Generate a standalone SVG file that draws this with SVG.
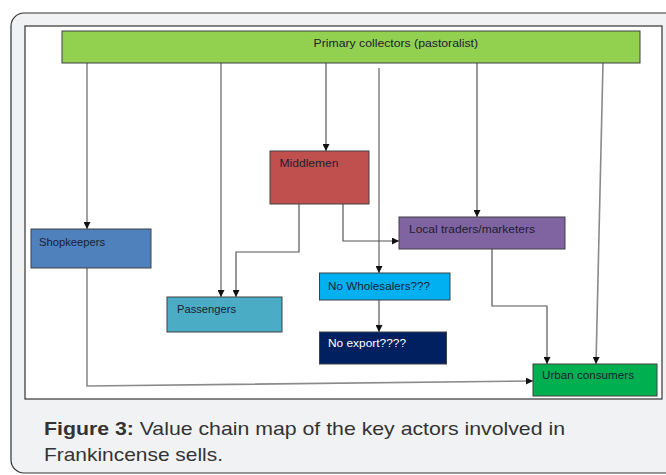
<svg xmlns="http://www.w3.org/2000/svg" width="666" height="475" viewBox="0 0 666 475">
<style>
.box{stroke:#404040;stroke-width:1}
.lbl{font-family:"Liberation Sans",Arial,sans-serif;font-size:11px;fill:#1c2030}
.ln{fill:none;stroke:#555;stroke-width:1.2}
.lg{fill:none;stroke:#8a8a8a;stroke-width:1.6}
.cap{font-family:"Liberation Sans",Arial,sans-serif;font-size:18.5px;fill:#333}
</style>
<defs>
<marker id="ah" viewBox="0 0 10 10" refX="10" refY="5" markerWidth="7" markerHeight="7" markerUnits="userSpaceOnUse" orient="auto">
<path d="M0,0 L10,5 L0,10 z" fill="#111"/>
</marker>
</defs>
<rect x="0" y="0" width="666" height="475" fill="#ffffff"/>
<rect x="11" y="13" width="670" height="460" rx="13" ry="13" fill="#f1f2f4" stroke="#333" stroke-width="1.2"/>
<rect x="25" y="26" width="637" height="373" fill="#ffffff" stroke="#333" stroke-width="1.2"/>

<g id="connectors">
<line class="lg" x1="87" y1="63" x2="87" y2="229" marker-end="url(#ah)"/>
<line class="lg" x1="221" y1="63" x2="221" y2="297" marker-end="url(#ah)"/>
<line class="ln" x1="326" y1="63" x2="326" y2="151" marker-end="url(#ah)"/>
<line class="lg" x1="379" y1="68" x2="379" y2="273" marker-end="url(#ah)"/>
<line class="ln" x1="477" y1="63" x2="477" y2="217" marker-end="url(#ah)"/>
<line class="lg" x1="603" y1="63" x2="596" y2="364" marker-end="url(#ah)"/>
<polyline class="ln" points="299,204 299,252 236,252 236,297" marker-end="url(#ah)"/>
<polyline class="ln" points="343,204 343,241 399,241" marker-end="url(#ah)"/>
<polyline class="ln" points="492,249 492,306 547,306 547,364" marker-end="url(#ah)"/>
<line class="ln" x1="379" y1="300" x2="379" y2="332" marker-end="url(#ah)"/>
<polyline class="lg" points="87,268 87,386 533,381" marker-end="url(#ah)"/>
</g>

<g id="primary">
<rect class="box" x="62" y="31" width="578" height="32" fill="#92d050"/>
<text class="lbl" x="313.5" y="47" textLength="164.5" lengthAdjust="spacingAndGlyphs">Primary collectors (pastoralist)</text>
</g>
<g id="middlemen">
<rect class="box" x="270" y="151" width="99" height="53" fill="#c0504d"/>
<text class="lbl" x="279.5" y="167" textLength="59" lengthAdjust="spacingAndGlyphs">Middlemen</text>
</g>
<g id="local-traders">
<rect class="box" x="399" y="217" width="166" height="32" fill="#8064a2"/>
<text class="lbl" x="409" y="233" textLength="126" lengthAdjust="spacingAndGlyphs">Local traders/marketers</text>
</g>
<g id="shopkeepers">
<rect class="box" x="31" y="229" width="120" height="39" fill="#4f81bd"/>
<text class="lbl" x="39" y="246" textLength="66" lengthAdjust="spacingAndGlyphs">Shopkeepers</text>
</g>
<g id="passengers">
<rect class="box" x="167" y="297" width="115" height="35" fill="#4bacc6"/>
<text class="lbl" x="177" y="313" textLength="59" lengthAdjust="spacingAndGlyphs">Passengers</text>
</g>
<g id="no-wholesalers">
<rect class="box" x="319.5" y="273" width="130.5" height="27" fill="#00b0f0"/>
<text class="lbl" x="328" y="290" textLength="102" lengthAdjust="spacingAndGlyphs">No Wholesalers???</text>
</g>
<g id="no-export">
<rect class="box" x="319.5" y="332" width="127" height="32" fill="#002060"/>
<text class="lbl" x="328" y="347" textLength="78" lengthAdjust="spacingAndGlyphs" style="fill:#ffffff">No export????</text>
</g>
<g id="urban">
<rect class="box" x="533" y="364" width="124" height="32" fill="#00b050"/>
<text class="lbl" x="542" y="379" textLength="92" lengthAdjust="spacingAndGlyphs">Urban consumers</text>
</g>

<text class="cap" x="44" y="435" textLength="521" lengthAdjust="spacingAndGlyphs"><tspan font-weight="bold">Figure 3:</tspan> Value chain map of the key actors involved in</text>
<text class="cap" x="44" y="461" textLength="179" lengthAdjust="spacingAndGlyphs">Frankincense sells.</text>
</svg>
